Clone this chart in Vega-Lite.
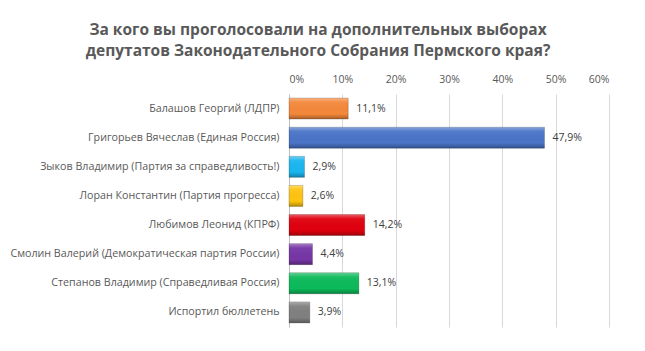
{
  "$schema": "https://vega.github.io/schema/vega-lite/v6.json",
  "autosize": "none",
  "width": 320,
  "height": 233,
  "padding": {"left": 289, "top": 94, "right": 36, "bottom": 24},
  "background": "white",
  "config": {
    "locale": {"number": {"decimal": ",", "thousands": " ", "grouping": [3], "currency": ["", ""]}},
    "font": "Open Sans",
    "view": {"stroke": null}
  },
  "title": {
    "text": ["За кого вы проголосовали на дополнительных выборах", "депутатов Законодательного Собрания Пермского края?"],
    "font": "Open Sans",
    "fontSize": 15.5,
    "fontWeight": "bold",
    "color": "#595959",
    "anchor": "middle",
    "dx": -131,
    "offset": 15,
    "lineHeight": 21
  },
  "data": {
    "values": [
      {"name": "Балашов Георгий (ЛДПР)", "value": 0.111},
      {"name": "Григорьев Вячеслав (Единая Россия)", "value": 0.479},
      {"name": "Зыков Владимир (Партия за справедливость!)", "value": 0.029},
      {"name": "Лоран Константин (Партия прогресса)", "value": 0.026},
      {"name": "Любимов Леонид (КПРФ)", "value": 0.142},
      {"name": "Смолин Валерий (Демократическая партия России)", "value": 0.044},
      {"name": "Степанов Владимир (Справедливая Россия)", "value": 0.131},
      {"name": "Испортил бюллетень", "value": 0.039}
    ]
  },
  "encoding": {
    "y": {
      "field": "name", "type": "nominal", "sort": null,
      "scale": {"paddingInner": 0.28, "paddingOuter": 0.14},
      "axis": {"title": null, "ticks": false, "labelPadding": 10, "labelFontSize": 10.7, "labelColor": "#595959", "domainColor": "#BFBFBF", "labelLimit": 300}
    },
    "x": {
      "field": "value", "type": "quantitative",
      "scale": {"domain": [0, 0.6]},
      "axis": {"orient": "top", "format": "0%", "values": [0, 0.1, 0.2, 0.3, 0.4, 0.5, 0.6], "labelOverlap": false, "title": null, "domain": false, "ticks": false, "labelPadding": 10, "labelFontSize": 10.5, "labelColor": "#595959", "gridColor": "#D9D9D9", "grid": true}
    }
  },
  "layer": [
    {
      "mark": {"type": "bar", "stroke": "#00000033", "strokeWidth": 1},
      "encoding": {
        "color": {
          "field": "name", "type": "nominal", "sort": null, "legend": null,
          "scale": {"range": ["#F4883B", "#4A74C8", "#1AB6F0", "#FFC410", "#E0000E", "#7636A6", "#0CBA5A", "#808080"]}
        }
      }
    },
    {
      "mark": {
        "type": "bar",
        "fill": {
          "gradient": "linear", "x1": 0, "y1": 0, "x2": 0, "y2": 1,
          "stops": [
            {"offset": 0, "color": "rgba(255,255,255,0.35)"},
            {"offset": 0.2, "color": "rgba(255,255,255,0.05)"},
            {"offset": 0.75, "color": "rgba(0,0,0,0)"},
            {"offset": 1, "color": "rgba(0,0,0,0.3)"}
          ]
        }
      }
    },
    {
      "mark": {"type": "text", "align": "left", "dx": 8, "fontSize": 10.5, "color": "#404040"},
      "encoding": {"text": {"field": "value", "type": "quantitative", "format": ".1%"}}
    }
  ]
}
